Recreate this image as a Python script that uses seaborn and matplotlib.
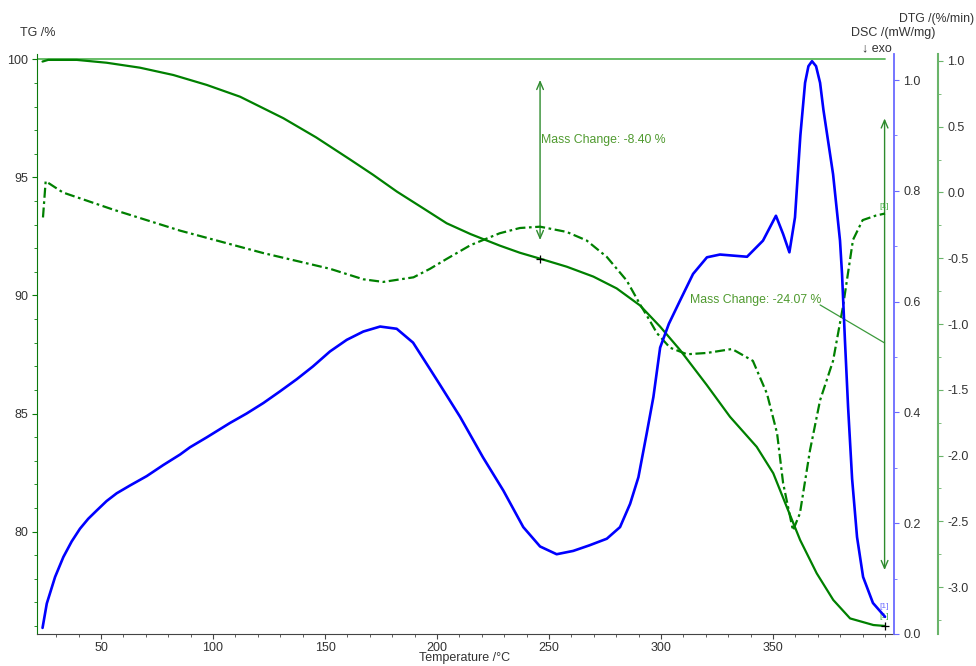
import numpy as np
import pandas as pd
import matplotlib
matplotlib.use("Agg")
import matplotlib.pyplot as plt
from matplotlib.ticker import MultipleLocator, FormatStrFormatter
import seaborn as sns

# ---------------- data ----------------
tg_temp = [23.9, 26.4, 39.2, 52.5, 67.4, 82.3, 97.2, 112.1, 131.4, 146.0, 161.2, 171.5,
           182.1, 193.9, 204.3, 215.0, 228.1, 237.0, 246.0, 257.9, 269.8, 280.2, 290.6,
           299.6, 308.5, 320.4, 330.8, 342.7, 350.1, 356.1, 362.1, 369.5, 376.9, 384.4,
           394.8, 400.0]
tg_val = [99.91, 99.98, 99.98, 99.86, 99.65, 99.34, 98.92, 98.42, 97.51, 96.7, 95.76, 95.11,
          94.40, 93.69, 93.06, 92.6, 92.11, 91.81, 91.56, 91.22, 90.80, 90.30, 89.58,
          88.68, 87.69, 86.21, 84.86, 83.59, 82.47, 81.05, 79.64, 78.23, 77.10, 76.32,
          76.04, 76.0]

dtg_temp = [24.1, 25.3, 33.0, 55.4, 85.3, 122.3, 152.2, 167.1, 176.0, 189.5, 196.9, 204.3,
            215.0, 228.0, 237.0, 246.0, 257.9, 266.8, 275.8, 284.7, 290.6, 293.8, 298.2,
            304.0, 311.6, 320.5, 331.7, 341.0, 347.3, 351.8, 354.5, 358.9, 362.0, 366.5,
            371.0, 376.8, 381.2, 385.7, 390.0, 396.0, 400.0]
dtg_val = [-0.19, 0.086, 0.0, -0.13, -0.29, -0.46, -0.58, -0.66, -0.68, -0.645, -0.58, -0.505,
           -0.40, -0.31, -0.27, -0.26, -0.30, -0.365, -0.49, -0.67, -0.85, -0.94, -1.07,
           -1.18, -1.23, -1.22, -1.19, -1.28, -1.53, -1.83, -2.21, -2.57, -2.44, -1.96,
           -1.58, -1.28, -0.87, -0.36, -0.21, -0.175, -0.16]

dsc_temp = [23.9, 25.8, 29.5, 33.2, 36.9, 40.6, 44.3, 48.1, 52.5, 57.0, 62.9, 70.4, 77.8,
            85.3, 89.7, 97.2, 107.6, 115.0, 122.5, 129.9, 137.4, 144.6, 152.2, 159.7, 167.1,
            174.6, 182.0, 189.3, 196.9, 201.3, 210.3, 220.5, 229.6, 238.5, 246.0, 253.4,
            260.8, 268.0, 275.8, 281.7, 286.2, 289.9, 293.6, 296.6, 299.6, 303.5, 308.5,
            314.3, 320.5, 326.3, 338.4, 345.5, 351.3, 354.5, 357.3, 359.8, 362.2, 364.3,
            365.8, 367.4, 369.2, 371.0, 372.5, 376.8, 379.9, 380.8, 382.1, 383.5, 385.3,
            387.5, 390.2, 394.6, 400.0]
dsc_val = [0.011, 0.055, 0.103, 0.139, 0.167, 0.190, 0.208, 0.223, 0.240, 0.254, 0.268, 0.285,
           0.305, 0.324, 0.337, 0.355, 0.381, 0.398, 0.417, 0.438, 0.460, 0.483, 0.510, 0.531,
           0.546, 0.555, 0.551, 0.526, 0.478, 0.450, 0.392, 0.319, 0.259, 0.193, 0.158, 0.144,
           0.150, 0.160, 0.172, 0.193, 0.235, 0.283, 0.362, 0.428, 0.517, 0.560, 0.602,
           0.650, 0.680, 0.685, 0.681, 0.710, 0.755, 0.722, 0.689, 0.752, 0.900, 0.995,
           1.025, 1.034, 1.025, 0.995, 0.946, 0.830, 0.710, 0.650, 0.530, 0.410, 0.280,
           0.175, 0.103, 0.056, 0.031]

# mass-change annotations: temperature, TG at arrow top, TG at arrow bottom
mc_temp = [246.0, 399.8]
mc_top = [99.13, 97.5]
mc_bottom = [92.35, 78.37]
mc_labels = ["Mass Change: -8.40 %", "Mass Change: -24.07 %"]

x_major = [50, 100, 150, 200, 250, 300, 350]
tg_major = [80, 85, 90, 95, 100]
dsc_major = [0.0, 0.2, 0.4, 0.6, 0.8, 1.0]
dtg_major = [-3.0, -2.5, -2.0, -1.5, -1.0, -0.5, 0.0, 0.5, 1.0]

tg_df = pd.DataFrame({"T": tg_temp, "TG": tg_val})
dtg_df = pd.DataFrame({"T": dtg_temp, "DTG": dtg_val})
dsc_df = pd.DataFrame({"T": dsc_temp, "DSC": dsc_val})

# ---------------- style ----------------
sns.set_style("white")
plt.rcParams["font.family"] = ["Liberation Sans", "DejaVu Sans"]
plt.rcParams["axes.unicode_minus"] = False

GREEN = "#008000"
BLUE = "#0000ff"
TXT = "#333333"
ANN = "#4f9a2f"

W, H = 976, 666
fig = plt.figure(figsize=(W / 100, H / 100), dpi=100)
ax = fig.add_axes([37 / W, (H - 634) / H, (894 - 37) / W, (634 - 54) / H])
ax2 = ax.twinx()
ax3 = ax.twinx()

# TG
sns.lineplot(data=tg_df, x="T", y="TG", ax=ax, color=GREEN, lw=1.6, sort=False, estimator=None)
# DTG
sns.lineplot(data=dtg_df, x="T", y="DTG", ax=ax3, color=GREEN, lw=1.6, sort=False, estimator=None,
             dashes=False)
ax3.lines[0].set_dashes([4.5, 1.6, 1.2, 1.6])
# DSC
sns.lineplot(data=dsc_df, x="T", y="DSC", ax=ax2, color=BLUE, lw=1.9, sort=False, estimator=None)
ax2.set_zorder(ax3.get_zorder() + 1)
ax2.patch.set_visible(False)
ax3.patch.set_visible(False)

# limits
ax.set_xlim(21.43, 404.0)
ax.set_ylim(75.66, 100.23)
ax2.set_ylim(0.0, 1.047)
ax3.set_ylim(-3.357, 1.053)

# 100 % reference line
ax.plot([ax.get_xlim()[0], tg_temp[-1]], [100, 100], color="#5cb85c", lw=1.3, zorder=1)

# ticks
ax.xaxis.set_major_locator(plt.FixedLocator(x_major))
ax.xaxis.set_minor_locator(MultipleLocator(10))
ax.yaxis.set_major_locator(plt.FixedLocator(tg_major))
ax.yaxis.set_minor_locator(MultipleLocator(1))
ax2.yaxis.set_major_locator(plt.FixedLocator(dsc_major))
ax2.yaxis.set_minor_locator(MultipleLocator(0.1))
ax2.yaxis.set_major_formatter(FormatStrFormatter("%.1f"))
ax3.yaxis.set_major_locator(plt.FixedLocator(dtg_major))
ax3.yaxis.set_minor_locator(MultipleLocator(0.25))
ax3.yaxis.set_major_formatter(FormatStrFormatter("%.1f"))

for a in (ax, ax2, ax3):
    a.set_xlabel("")
    a.set_ylabel("")
    for s in a.spines.values():
        s.set_visible(False)

ax.spines["left"].set_visible(True)
ax.spines["left"].set_color("#0a7a0a")
ax.spines["bottom"].set_visible(True)
ax.spines["bottom"].set_color("#444444")
ax2.spines["right"].set_visible(True)
ax2.spines["right"].set_color("#6a6aff")
ax2.spines["right"].set_linewidth(1.3)
ax3.spines["right"].set_visible(True)
ax3.spines["right"].set_color("#6ab46a")
ax3.spines["right"].set_linewidth(1.5)
ax3.spines["right"].set_position(("outward", 44 * 0.72))

ax.tick_params(axis="x", which="both", direction="out", bottom=True, colors="#444444",
               labelcolor=TXT, labelsize=9, pad=2)
ax.tick_params(axis="x", which="major", length=3.5)
ax.tick_params(axis="x", which="minor", length=2.5)
ax.tick_params(axis="y", which="both", direction="out", left=True, colors="#0a7a0a",
               labelcolor=TXT, labelsize=9, pad=3)
ax.tick_params(axis="y", which="major", length=3.5)
ax.tick_params(axis="y", which="minor", length=2.5)
ax2.tick_params(axis="y", which="both", direction="out", right=True, colors="#6a6aff",
                labelcolor=TXT, labelsize=9, pad=3)
ax2.tick_params(axis="y", which="major", length=3.5)
ax2.tick_params(axis="y", which="minor", length=2.5)
ax3.tick_params(axis="y", which="both", direction="out", right=True, colors="#6ab46a",
                labelcolor=TXT, labelsize=9, pad=3)
ax3.tick_params(axis="y", which="major", length=3.5)
ax3.tick_params(axis="y", which="minor", length=2.5)

# mass change arrows and labels
for t, top, bot in zip(mc_temp, mc_top, mc_bottom):
    ax.annotate("", xy=(t, bot), xytext=(t, top),
                arrowprops=dict(arrowstyle="<->,head_length=0.7,head_width=0.3",
                                color="#2e8b2e", lw=1.0, shrinkA=0, shrinkB=0,
                                mutation_scale=8))
ax.text(mc_temp[0] + 0.3, 96.6, mc_labels[0], color=ANN, fontsize=8.8, va="center", ha="left")
ax.text(313.0, 89.8, mc_labels[1], color=ANN, fontsize=8.8, va="center", ha="left")
ax.plot([371.0, mc_temp[1]], [89.6, 87.99], color="#3c9a3c", lw=0.9)

# step markers on TG
ax.plot([tg_temp[18], tg_temp[-1]], [tg_val[18], tg_val[-1]], ls="none", marker="+",
        color="black", ms=6, mew=0.9, zorder=6)

# small curve-end tags
ax3.text(dtg_temp[-1] - 0.3, dtg_val[-1] + 0.03, "[1]", color="#3caa3c", fontsize=6,
         ha="center", va="bottom")
ax2.text(dsc_temp[-1] - 0.3, dsc_val[-1] + 0.012, "[1]", color="#6a6aff", fontsize=6,
         ha="center", va="bottom")
ax.text(tg_temp[-1] - 0.3, tg_val[-1] + 0.25, "[1]", color="#3caa3c", fontsize=6,
        ha="center", va="bottom")

# axis titles
fig.text(20 / W, 1 - 33 / H, "TG /%", fontsize=9, color=TXT, ha="left", va="center")
fig.text(851 / W, 1 - 33 / H, "DSC /(mW/mg)", fontsize=9, color=TXT, ha="left", va="center")
fig.text(862 / W, 1 - 48 / H, "\u2193 exo", fontsize=9, color=TXT, ha="left", va="center")
fig.text(974 / W, 1 - 19 / H, "DTG /(%/min)", fontsize=8.8, color=TXT, ha="right", va="center")
fig.text(465 / W, 1 - 658 / H, "Temperature /\u00b0C", fontsize=9, color=TXT, ha="center",
         va="center")

fig.savefig("out.png", dpi=100)
